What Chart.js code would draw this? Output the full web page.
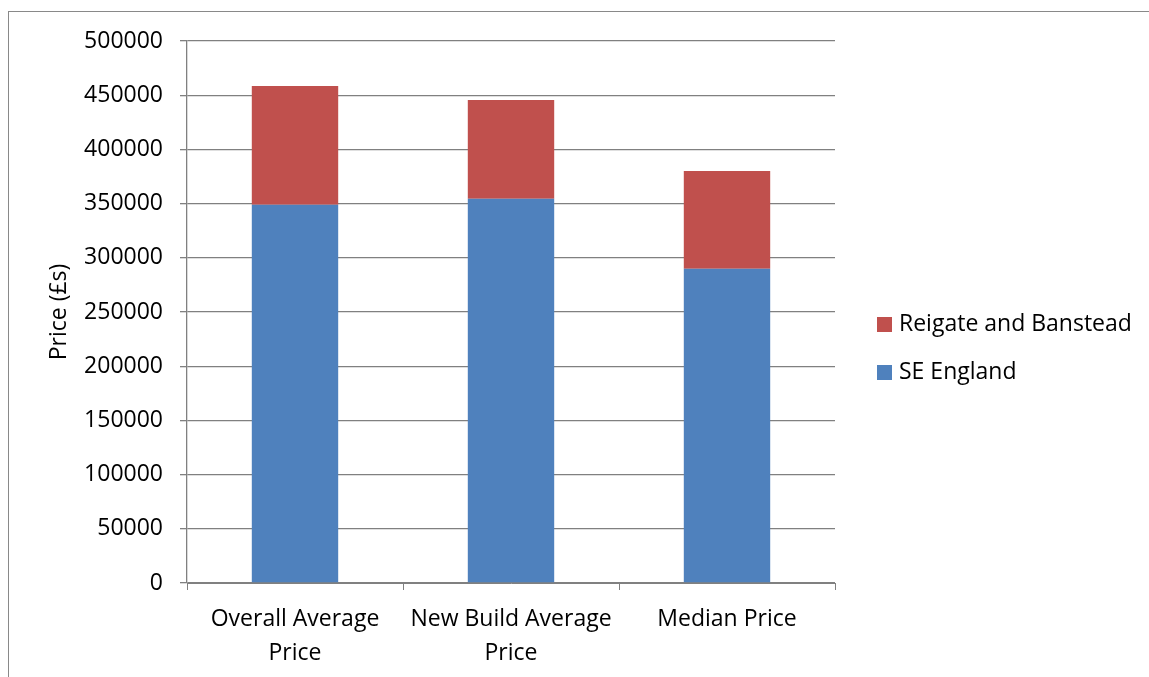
<!DOCTYPE html>
<html>
<head>
<meta charset="utf-8">
<title>House prices</title>
<script src="https://cdn.jsdelivr.net/npm/chart.js@4.4.1/dist/chart.umd.min.js"></script>
<style>
  html, body { margin: 0; padding: 0; background: #fff; overflow: hidden; }
  #wrap { position: relative; width: 1149px; height: 677px; }
  #frame {
    position: absolute; left: 8px; top: 11px; width: 2000px; height: 2000px;
    border-left: 1px solid #898989; border-top: 1px solid #898989;
  }
  #priceChart { position: absolute; left: 0; top: 0; }
</style>
</head>
<body>
<div id="wrap">
  <div id="frame"></div>
  <canvas id="priceChart" width="1149" height="677"></canvas>
</div>
<script>
const categories = [['Overall Average', 'Price'], ['New Build Average', 'Price'], 'Median Price'];
const seEngland = [349000, 354500, 290000];
const reigateBanstead = [109500, 91000, 90000];
const yTicks = [0, 50000, 100000, 150000, 200000, 250000, 300000, 350000, 400000, 450000, 500000];

const FONT = '"Open Sans", "Liberation Sans", sans-serif';
const GRID = '#808080';

// simple legend on the right, red series listed first
const sideLegend = {
  id: 'sideLegend',
  afterDraw(chart) {
    const ctx = chart.ctx;
    const sets = chart.data.datasets.slice().reverse();
    ctx.save();
    ctx.font = '23px ' + FONT;
    ctx.textBaseline = 'middle';
    ctx.textAlign = 'left';
    sets.forEach((ds, i) => {
      const cy = 324 + i * 48;
      ctx.fillStyle = ds.backgroundColor;
      ctx.fillRect(877, cy - 7, 15, 15);
      ctx.fillStyle = '#000';
      ctx.fillText(ds.label, 899, cy);
    });
    ctx.restore();
  }
};

new Chart(document.getElementById('priceChart').getContext('2d'), {
  type: 'bar',
  data: {
    labels: categories,
    datasets: [
      {
        label: 'SE England',
        data: seEngland,
        backgroundColor: '#4F81BD',
        categoryPercentage: 1,
        barPercentage: 0.4
      },
      {
        label: 'Reigate and Banstead',
        data: reigateBanstead,
        backgroundColor: '#C0504D',
        categoryPercentage: 1,
        barPercentage: 0.4
      }
    ]
  },
  options: {
    responsive: false,
    animation: false,
    layout: { padding: { top: 41, right: 314, bottom: 0, left: 0 } },
    plugins: {
      legend: { display: false },
      tooltip: { enabled: false }
    },
    scales: {
      x: {
        stacked: true,
        afterFit: (scale) => { scale.height = 94; },
        grid: {
          offset: true,
          drawOnChartArea: false,
          drawTicks: true,
          tickLength: 7,
          color: GRID,
          lineWidth: 1
        },
        border: { color: GRID, width: 1 },
        ticks: {
          color: '#000',
          padding: 13,
          maxRotation: 0,
          autoSkip: false,
          font: { family: FONT, size: 23, lineHeight: 1.45 }
        }
      },
      y: {
        stacked: true,
        min: 0,
        max: 500000,
        afterFit: (scale) => { scale.width = 187; },
        afterBuildTicks: (scale) => { scale.ticks = yTicks.map(v => ({ value: v })); },
        grid: {
          color: GRID,
          lineWidth: 1.3,
          drawTicks: true,
          tickLength: 7
        },
        border: { color: GRID, width: 1.3 },
        ticks: {
          color: '#000',
          padding: 17,
          callback: (value) => String(value),
          font: { family: FONT, size: 23 }
        },
        title: {
          display: true,
          text: 'Price (£s)',
          color: '#000',
          padding: { top: 46, bottom: 0 },
          font: { family: FONT, size: 23 }
        }
      }
    }
  },
  plugins: [sideLegend]
});
</script>
</body>
</html>
